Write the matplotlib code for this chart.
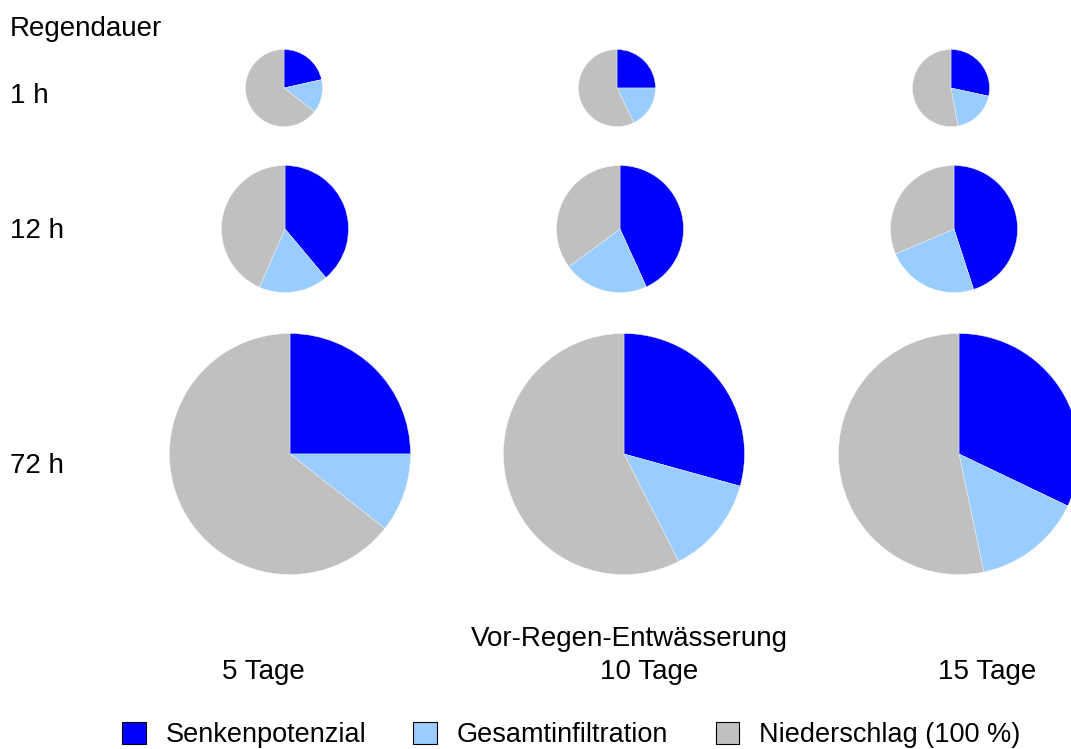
import matplotlib
matplotlib.use("Agg")
import matplotlib.pyplot as plt
from matplotlib.patches import Patch

plt.rcParams['font.family'] = ['Liberation Sans', 'DejaVu Sans']

# shares in % (clockwise from top): Senkenpotenzial, Gesamtinfiltration, rest
rain_rows = ['1 h', '12 h', '72 h']
drain_cols = ['5 Tage', '10 Tage', '15 Tage']
senke = [[21.5, 25.0, 28.4],
         [38.9, 43.2, 45.0],
         [25.0, 29.3, 32.1]]
infil = [[14.0, 17.8, 18.7],
         [17.7, 21.7, 23.6],
         [10.6, 13.2, 14.6]]
# relative pie size per rain duration
row_size = [38.5, 63.5, 120.5]
labels = ['Senkenpotenzial', 'Gesamtinfiltration', 'Niederschlag (100 %)']
colors = ['#0000ff', '#99ccff', '#c0c0c0']

W, H = 1071, 749
fig = plt.figure(figsize=(W / 100, H / 100), dpi=100)
ax = fig.add_axes([0, 0, 1, 1])

row_y = [88, 229, 454]
col_x = [[284, 617, 951], [285, 620, 954], [290, 624, 959]]

for i in range(3):
    for j in range(3):
        rest = 100 - senke[i][j] - infil[i][j]
        ax.pie([senke[i][j], infil[i][j], rest], colors=colors,
               startangle=90, counterclock=False,
               center=(col_x[i][j], H - row_y[i]), radius=row_size[i],
               wedgeprops=dict(linewidth=0.3, edgecolor='#f4f4f4'))

ax.set_xlim(0, W)
ax.set_ylim(0, H)
ax.set_aspect('equal')
ax.axis('off')

fs = 20
ax.text(10, H - 29, 'Regendauer', fontsize=fs, va='center', ha='left')
for lab, y in zip(rain_rows, [96, 231, 466]):
    ax.text(10, H - y, lab, fontsize=fs, va='center', ha='left')

ax.text(629, H - 639, 'Vor-Regen-Entwässerung', fontsize=fs, va='center', ha='center')
for lab, x in zip(drain_cols, [263, 649, 987]):
    ax.text(x, H - 672, lab, fontsize=fs, va='center', ha='center')

handles = [Patch(facecolor=c, edgecolor='black', linewidth=0.8) for c in colors]
fig.legend(handles, labels, loc='center', bbox_to_anchor=(571 / W, 1 - 735 / H),
           ncol=3, frameon=False, fontsize=19.5, handlelength=0.88, handleheight=0.9,
           handletextpad=0.72, columnspacing=1.75, borderpad=0, borderaxespad=0)

fig.savefig('out.png', dpi=100)
